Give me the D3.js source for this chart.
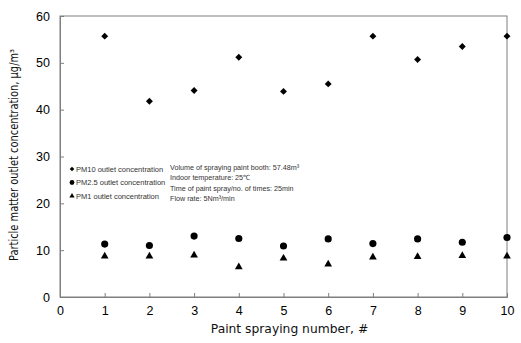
<!DOCTYPE html>
<html>
<head>
<meta charset="utf-8">
<script src="https://cdn.jsdelivr.net/npm/d3@7"></script>
<style>
    body { margin: 0; background: #fff; }
    svg { font-family: "Liberation Sans", Arial, sans-serif; }
</style>
</head>
<body>
<svg></svg>
<script>
// Dữ liệu
const sprayNumbers = [1, 2, 3, 4, 5, 6, 7, 8, 9, 10];
const pm10 = [55.7, 41.8, 44.1, 51.2, 43.9, 45.5, 55.7, 50.7, 53.5, 55.7];
const pm25 = [11.3, 11.0, 13.0, 12.5, 10.9, 12.4, 11.4, 12.4, 11.7, 12.7];
const pm1 = [8.7, 8.7, 8.9, 6.4, 8.25, 7.0, 8.5, 8.6, 8.8, 8.7];
const xTicks = [0, 1, 2, 3, 4, 5, 6, 7, 8, 9, 10];
const yTicks = [0, 10, 20, 30, 40, 50, 60];
const legendLabels = ["PM10 outlet concentration", "PM2.5 outlet concentration", "PM1 outlet concentration"];
const noteLines = [
    "Volume of spraying paint booth: 57.48m\u00b3",
    "Indoor temperature: 25\u2103",
    "Time of paint spray/no. of times: 25min",
    "Flow rate: 5Nm\u00b3/min"
];

const width = 521, height = 343;
const margin = { top: 16, right: 14, bottom: 46, left: 60 };

const svg = d3.select("svg")
    .attr("width", width)
    .attr("height", height);

// Scale
const xScale = d3.scaleLinear()
    .domain([0, 10])
    .range([margin.left, width - margin.right]);

const yScale = d3.scaleLinear()
    .domain([0, 60])
    .range([height - margin.bottom, margin.top]);

const frameColor = "#7f7f7f";

// Khung biểu đồ
svg.append("rect")
    .attr("x", margin.left)
    .attr("y", margin.top)
    .attr("width", width - margin.left - margin.right)
    .attr("height", height - margin.top - margin.bottom)
    .attr("fill", "none")
    .attr("stroke", frameColor)
    .attr("stroke-width", 1);

// Trục X (tick hướng vào trong)
const xAxis = svg.append("g")
    .attr("transform", `translate(0,${height - margin.bottom})`)
    .call(d3.axisBottom(xScale).tickValues(xTicks).tickSize(-4).tickPadding(9).tickFormat(d3.format("d")));

// Trục Y
const yAxis = svg.append("g")
    .attr("transform", `translate(${margin.left},0)`)
    .call(d3.axisLeft(yScale).tickValues(yTicks).tickSize(-4).tickPadding(10).tickFormat(d3.format("d")));

[xAxis, yAxis].forEach(ax => {
    ax.select(".domain").attr("stroke", frameColor);
    ax.selectAll(".tick line").attr("stroke", frameColor);
    ax.selectAll(".tick text")
        .attr("fill", "#000")
        .style("font-size", "12.5px")
        .style("font-family", "'Liberation Sans', Arial, sans-serif");
});

// Các điểm dữ liệu
const series = [
    { values: pm10, symbol: d3.symbolSquare, size: 24, rotate: 45 },
    { values: pm25, symbol: d3.symbolCircle, size: 40, rotate: 0 },
    { values: pm1, symbol: d3.symbolTriangle, size: 26, rotate: 0 }
];

series.forEach(s => {
    svg.append("g")
        .selectAll("path")
        .data(s.values)
        .enter().append("path")
        .attr("d", d3.symbol().type(s.symbol).size(s.size))
        .attr("transform", (d, i) => `translate(${xScale(sprayNumbers[i])},${yScale(d)}) rotate(${s.rotate})`)
        .attr("fill", "#000");
});

// Chú thích (Legend)
const legend = svg.append("g")
    .attr("transform", "translate(72, 169)");

legend.selectAll("path")
    .data(series)
    .enter().append("path")
    .attr("d", s => d3.symbol().type(s.symbol).size(s.size * 0.45)())
    .attr("transform", (s, i) => `translate(0,${i * 13.5}) rotate(${s.rotate})`)
    .attr("fill", "#000");

legend.selectAll("text")
    .data(legendLabels)
    .enter().append("text")
    .attr("x", 4)
    .attr("y", (d, i) => i * 13.5)
    .attr("dy", "0.35em")
    .style("font-size", "7.5px")
    .attr("fill", "#333")
    .text(d => d);

// Ghi chú điều kiện thí nghiệm
svg.append("g")
    .attr("transform", "translate(170, 167)")
    .selectAll("text")
    .data(noteLines)
    .enter().append("text")
    .attr("x", 0)
    .attr("y", (d, i) => i * 10.6)
    .attr("dy", "0.35em")
    .style("font-size", "7.2px")
    .attr("fill", "#333")
    .text(d => d);

// Tên trục X
svg.append("text")
    .attr("x", (margin.left + width - margin.right) / 2 + 6)
    .attr("y", 333)
    .attr("text-anchor", "middle")
    .style("font-family", "'DejaVu Sans', sans-serif")
    .style("font-size", "12.3px")
    .attr("fill", "#111")
    .text("Paint spraying number, #");

// Tên trục Y (nén chữ cho vừa độ dài)
svg.append("text")
    .attr("transform", "rotate(-90)")
    .attr("x", -155)
    .attr("y", 18)
    .attr("text-anchor", "middle")
    .attr("textLength", 212)
    .attr("lengthAdjust", "spacingAndGlyphs")
    .style("font-family", "'DejaVu Sans', sans-serif")
    .style("font-size", "11.5px")
    .attr("fill", "#111")
    .text("Particle matter outlet concentration, \u03bcg/m\u00b3");
</script>
</body>
</html>
